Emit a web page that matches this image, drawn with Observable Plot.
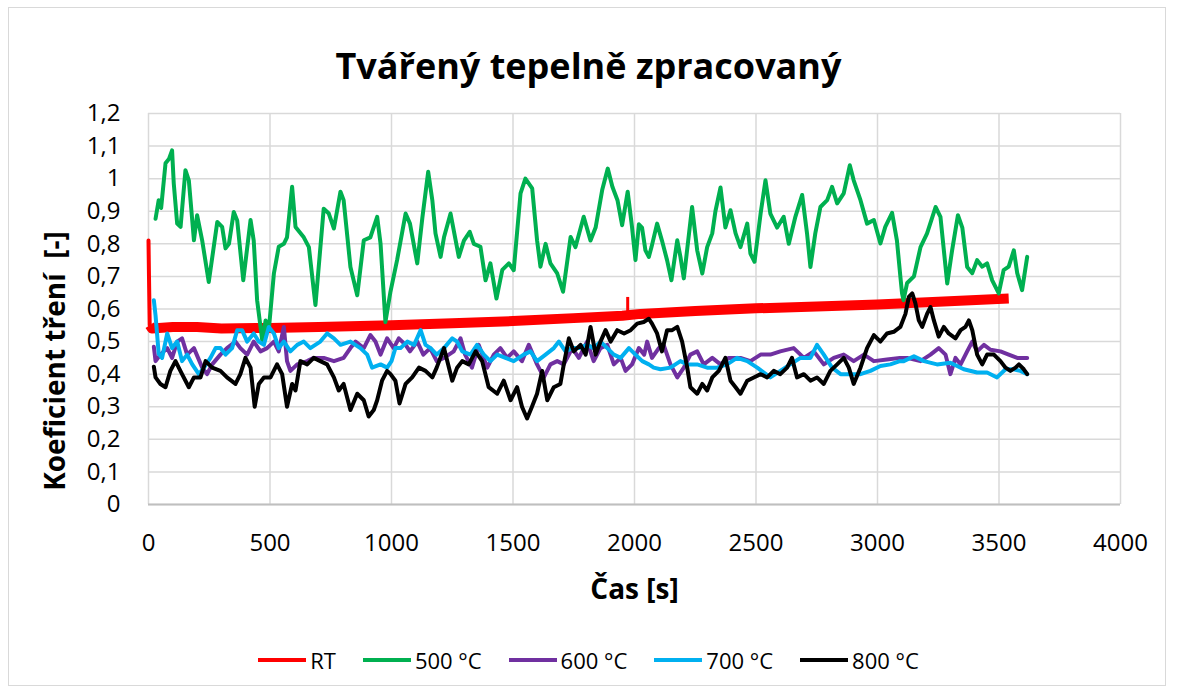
<!DOCTYPE html>
<html><head><meta charset="utf-8">
<script src="https://cdn.jsdelivr.net/npm/d3@7"></script>
<script src="https://cdn.jsdelivr.net/npm/@observablehq/plot@0.6"></script>
<style>
html,body{margin:0;padding:0;background:#fff;}
body{width:1177px;height:695px;position:relative;overflow:hidden;font-family:"Open Sans",sans-serif;color:#000;}
#frame{position:absolute;left:8px;top:7px;width:1158px;height:679px;border:1.5px solid #d9d9d9;box-sizing:border-box;}
#title{position:absolute;left:0;width:1177px;top:41px;text-align:center;font-weight:700;font-size:36px;}
#chart{position:absolute;left:0;top:95px;}
#legend{position:absolute;left:0;width:1177px;top:645px;display:flex;justify-content:center;gap:27px;font-size:22px;}
.item{display:flex;align-items:center;gap:4px;}
.sw{width:48px;height:4px;}
g[aria-label="x-axis label"] text, g[aria-label="y-axis label"] text{font-size:28px;font-weight:700;}
g[aria-label="y-axis label"] text{translate:0 52px;}
</style>
</head><body>
<div id="frame"></div>
<div id="title">Tvářený tepelně zpracovaný</div>
<div id="chart"></div>
<div id="legend"></div>
<script>
const xTicks = [0, 500, 1000, 1500, 2000, 2500, 3000, 3500, 4000];
const xTickLabels = ["0", "500", "1000", "1500", "2000", "2500", "3000", "3500", "4000"];
const yTicks = [0, 0.1, 0.2, 0.3, 0.4, 0.5, 0.6, 0.7, 0.8, 0.9, 1, 1.1, 1.2];
const yTickLabels = ["0", "0,1", "0,2", "0,3", "0,4", "0,5", "0,6", "0,7", "0,8", "0,9", "1", "1,1", "1,2"];
const seriesNames = ["RT", "500 °C", "600 °C", "700 °C", "800 °C"];
const seriesColors = ["#ff0000", "#00b050", "#7030a0", "#00b0f0", "#000000"];

// RT: initial spike, the main band, and a short spike near 1970 s
const rtStart = [[0,0.81],[2,0.70],[5,0.55]];
const rt = [[5,0.55],[14,0.54],[100,0.545],[200,0.545],[300,0.54],[500,0.542],[700,0.545],[1000,0.55],[1250,0.556],[1500,0.563],[1750,0.572],[1950,0.579],[2025,0.585],[2250,0.594],[2500,0.602],[2750,0.608],[3000,0.614],[3250,0.622],[3540,0.632]];
const rtSpike = [[1972,0.58],[1972,0.637]];

const t500 = [[29,0.877],[42,0.934],[52,0.91],[70,1.047],[84,1.06],[97,1.087],[104,0.985],[118,0.862],[132,0.852],[152,1.026],[166,0.995],[187,0.811],[200,0.888],[221,0.81],[248,0.683],[283,0.867],[303,0.852],[317,0.786],[331,0.8],[351,0.898],[365,0.872],[390,0.688],[420,0.873],[433,0.81],[447,0.627],[468,0.504],[482,0.565],[495,0.535],[516,0.709],[536,0.791],[557,0.80],[570,0.82],[591,0.975],[605,0.852],[639,0.82],[660,0.79],[687,0.612],[721,0.908],[742,0.893],[763,0.847],[790,0.96],[803,0.934],[831,0.729],[859,0.642],[886,0.811],[913,0.82],[941,0.883],[955,0.80],[975,0.56],[995,0.65],[1023,0.75],[1058,0.893],[1076,0.862],[1106,0.74],[1127,0.88],[1151,1.021],[1168,0.934],[1181,0.832],[1202,0.76],[1216,0.82],[1243,0.893],[1277,0.76],[1298,0.81],[1322,0.837],[1339,0.80],[1366,0.791],[1387,0.688],[1407,0.74],[1432,0.632],[1456,0.72],[1483,0.74],[1503,0.719],[1531,0.955],[1551,1.00],[1579,0.97],[1599,0.811],[1613,0.73],[1634,0.80],[1654,0.74],[1682,0.709],[1706,0.653],[1737,0.821],[1757,0.79],[1791,0.883],[1819,0.81],[1840,0.85],[1867,0.965],[1890,1.031],[1909,0.975],[1930,0.934],[1949,0.857],[1972,0.96],[1990,0.85],[2004,0.75],[2018,0.86],[2031,0.85],[2045,0.78],[2059,0.76],[2070,0.79],[2093,0.862],[2113,0.81],[2134,0.75],[2152,0.688],[2176,0.811],[2189,0.76],[2203,0.694],[2237,0.913],[2258,0.78],[2279,0.709],[2299,0.79],[2320,0.832],[2333,0.90],[2354,0.973],[2374,0.85],[2395,0.903],[2416,0.832],[2436,0.79],[2464,0.862],[2477,0.77],[2494,0.745],[2519,0.893],[2539,0.995],[2559,0.893],[2587,0.85],[2614,0.883],[2635,0.80],[2662,0.883],[2690,0.95],[2710,0.832],[2724,0.729],[2744,0.832],[2765,0.913],[2793,0.934],[2813,0.975],[2834,0.924],[2861,0.955],[2886,1.041],[2902,0.995],[2930,0.934],[2957,0.862],[2985,0.873],[3012,0.801],[3032,0.852],[3060,0.895],[3080,0.81],[3094,0.70],[3101,0.648],[3107,0.627],[3122,0.68],[3150,0.70],[3177,0.79],[3204,0.832],[3239,0.913],[3259,0.883],[3287,0.678],[3307,0.78],[3331,0.888],[3349,0.85],[3369,0.729],[3390,0.71],[3410,0.75],[3431,0.73],[3451,0.74],[3472,0.688],[3499,0.648],[3519,0.719],[3540,0.73],[3561,0.78],[3575,0.71],[3595,0.658],[3616,0.76]];

const t600 = [[22,0.484],[29,0.44],[49,0.46],[77,0.48],[97,0.45],[118,0.50],[138,0.51],[159,0.46],[187,0.48],[221,0.42],[241,0.40],[262,0.43],[296,0.46],[323,0.48],[358,0.50],[378,0.48],[406,0.46],[433,0.50],[461,0.47],[488,0.48],[516,0.50],[536,0.47],[557,0.545],[570,0.44],[584,0.41],[612,0.43],[653,0.44],[680,0.45],[721,0.45],[763,0.44],[803,0.45],[831,0.48],[852,0.50],[886,0.48],[913,0.52],[934,0.50],[955,0.46],[982,0.51],[1009,0.48],[1030,0.51],[1058,0.49],[1076,0.47],[1106,0.50],[1131,0.46],[1159,0.48],[1186,0.44],[1216,0.45],[1256,0.47],[1284,0.51],[1303,0.46],[1331,0.42],[1359,0.49],[1394,0.42],[1421,0.46],[1448,0.48],[1476,0.45],[1503,0.47],[1537,0.44],[1565,0.49],[1599,0.43],[1627,0.39],[1654,0.43],[1682,0.44],[1709,0.43],[1744,0.48],[1771,0.45],[1805,0.50],[1832,0.44],[1860,0.48],[1888,0.49],[1915,0.43],[1943,0.45],[1963,0.41],[1990,0.43],[2018,0.48],[2040,0.46],[2052,0.50],[2072,0.45],[2100,0.48],[2120,0.49],[2148,0.43],[2176,0.39],[2203,0.42],[2230,0.46],[2258,0.47],[2285,0.43],[2320,0.45],[2354,0.43],[2388,0.45],[2436,0.45],[2477,0.44],[2519,0.46],[2559,0.46],[2600,0.47],[2655,0.48],[2697,0.45],[2738,0.47],[2779,0.43],[2820,0.45],[2861,0.46],[2902,0.44],[2944,0.46],[2985,0.44],[3039,0.445],[3092,0.45],[3122,0.45],[3177,0.44],[3218,0.46],[3252,0.48],[3280,0.46],[3300,0.40],[3321,0.45],[3342,0.43],[3369,0.47],[3390,0.50],[3410,0.47],[3438,0.49],[3465,0.475],[3506,0.47],[3540,0.46],[3575,0.45],[3616,0.45]];

const t700 = [[22,0.627],[29,0.58],[42,0.463],[56,0.45],[77,0.525],[97,0.48],[118,0.50],[138,0.44],[159,0.46],[180,0.43],[207,0.40],[228,0.42],[255,0.45],[276,0.48],[296,0.48],[317,0.46],[344,0.48],[365,0.535],[385,0.535],[406,0.50],[433,0.525],[454,0.50],[475,0.49],[495,0.545],[516,0.525],[536,0.48],[557,0.50],[584,0.47],[612,0.49],[639,0.50],[666,0.48],[707,0.50],[735,0.525],[763,0.51],[790,0.49],[831,0.50],[872,0.48],[900,0.46],[920,0.42],[955,0.43],[982,0.42],[1000,0.44],[1016,0.48],[1037,0.48],[1065,0.50],[1093,0.49],[1120,0.535],[1140,0.49],[1161,0.48],[1186,0.46],[1216,0.48],[1250,0.51],[1270,0.50],[1291,0.47],[1325,0.46],[1352,0.49],[1380,0.46],[1407,0.44],[1435,0.46],[1469,0.45],[1503,0.44],[1544,0.46],[1572,0.47],[1599,0.44],[1634,0.46],[1668,0.48],[1689,0.50],[1716,0.47],[1744,0.48],[1771,0.48],[1805,0.49],[1832,0.48],[1860,0.50],[1888,0.48],[1915,0.46],[1943,0.45],[1977,0.48],[2004,0.46],[2032,0.44],[2059,0.43],[2079,0.42],[2107,0.415],[2148,0.42],[2189,0.44],[2217,0.43],[2258,0.43],[2299,0.42],[2340,0.42],[2381,0.43],[2422,0.45],[2464,0.44],[2505,0.42],[2559,0.39],[2600,0.41],[2641,0.43],[2683,0.45],[2724,0.45],[2751,0.49],[2779,0.46],[2813,0.42],[2848,0.40],[2889,0.40],[2930,0.40],[2971,0.41],[3012,0.425],[3053,0.43],[3092,0.44],[3108,0.44],[3150,0.455],[3191,0.44],[3245,0.43],[3300,0.435],[3355,0.415],[3410,0.405],[3451,0.405],[3492,0.39],[3527,0.415],[3561,0.415],[3588,0.41],[3616,0.40]];

const t800 = [[22,0.423],[29,0.39],[49,0.37],[70,0.36],[90,0.41],[111,0.44],[138,0.40],[166,0.36],[187,0.39],[214,0.39],[235,0.44],[262,0.42],[296,0.41],[323,0.39],[358,0.37],[378,0.40],[399,0.45],[420,0.42],[437,0.30],[454,0.37],[475,0.39],[502,0.39],[529,0.43],[550,0.40],[570,0.30],[591,0.37],[605,0.35],[625,0.44],[653,0.43],[680,0.45],[707,0.44],[735,0.43],[763,0.39],[783,0.35],[803,0.37],[831,0.29],[859,0.34],[886,0.32],[906,0.27],[927,0.29],[941,0.32],[961,0.38],[982,0.41],[996,0.40],[1016,0.38],[1033,0.31],[1058,0.37],[1085,0.39],[1113,0.42],[1140,0.41],[1168,0.39],[1186,0.42],[1216,0.48],[1250,0.38],[1270,0.42],[1291,0.44],[1318,0.43],[1346,0.47],[1373,0.44],[1400,0.36],[1435,0.34],[1462,0.38],[1490,0.32],[1517,0.36],[1537,0.30],[1558,0.264],[1578,0.30],[1599,0.34],[1620,0.41],[1641,0.32],[1668,0.36],[1695,0.37],[1709,0.43],[1730,0.51],[1750,0.47],[1778,0.49],[1799,0.46],[1819,0.545],[1840,0.46],[1860,0.50],[1881,0.535],[1902,0.50],[1929,0.535],[1957,0.525],[1984,0.535],[2011,0.555],[2038,0.56],[2059,0.57],[2072,0.555],[2093,0.525],[2113,0.47],[2134,0.535],[2155,0.535],[2176,0.545],[2196,0.50],[2217,0.42],[2230,0.36],[2258,0.34],[2279,0.37],[2299,0.35],[2320,0.39],[2347,0.41],[2374,0.45],[2395,0.38],[2416,0.36],[2436,0.34],[2464,0.38],[2491,0.39],[2519,0.40],[2546,0.39],[2573,0.41],[2600,0.40],[2628,0.42],[2648,0.45],[2669,0.39],[2697,0.40],[2724,0.38],[2751,0.39],[2779,0.37],[2806,0.41],[2834,0.43],[2861,0.45],[2882,0.42],[2902,0.37],[2930,0.42],[2957,0.48],[2985,0.52],[3012,0.50],[3039,0.525],[3067,0.53],[3094,0.545],[3115,0.585],[3129,0.637],[3143,0.648],[3156,0.617],[3170,0.565],[3184,0.545],[3204,0.585],[3218,0.606],[3232,0.565],[3252,0.515],[3273,0.545],[3293,0.525],[3321,0.51],[3342,0.535],[3362,0.545],[3376,0.565],[3390,0.535],[3410,0.46],[3431,0.43],[3451,0.46],[3479,0.46],[3506,0.44],[3527,0.42],[3547,0.41],[3568,0.42],[3582,0.43],[3602,0.415],[3616,0.40]];

const X = d => d[0], Y = d => d[1];
const plot = Plot.plot({
  width: 1177,
  height: 540,
  marginLeft: 148,
  marginRight: 57,
  marginTop: 18,
  marginBottom: 131,
  style: {fontFamily: "'Open Sans', sans-serif", background: "transparent", color: "#000", overflow: "visible"},
  x: {domain: [0, 4000]},
  y: {domain: [0, 1.2]},
  marks: [
    Plot.gridX(xTicks, {stroke: "#d9d9d9", strokeOpacity: 1, strokeWidth: 1.5}),
    Plot.gridY(yTicks, {stroke: "#d9d9d9", strokeOpacity: 1, strokeWidth: 1.5}),
    Plot.ruleY([0], {stroke: "#bfbfbf", strokeWidth: 2}),
    Plot.axisX({ticks: xTicks, tickSize: 0, tickPadding: 29, fontSize: 24,
      tickFormat: d => xTickLabels[xTicks.indexOf(d)],
      label: "Čas [s]", labelAnchor: "center", labelOffset: 94, labelArrow: "none"}),
    Plot.axisY({ticks: yTicks, tickSize: 0, tickPadding: 28, fontSize: 24,
      tickFormat: d => yTickLabels[yTicks.indexOf(d)],
      label: "Koeficient tření\u00a0 [-]", labelAnchor: "center", labelOffset: 103, labelArrow: "none"}),
    Plot.line(rtStart, {x: X, y: Y, stroke: seriesColors[0], strokeWidth: 4}),
    Plot.line(rt, {x: X, y: Y, stroke: seriesColors[0], strokeWidth: 10, strokeLinecap: "butt"}),
    Plot.line(rtSpike, {x: X, y: Y, stroke: seriesColors[0], strokeWidth: 3, strokeLinecap: "butt"}),
    Plot.line(t500, {x: X, y: Y, stroke: seriesColors[1], strokeWidth: 4}),
    Plot.line(t600, {x: X, y: Y, stroke: seriesColors[2], strokeWidth: 4}),
    Plot.line(t700, {x: X, y: Y, stroke: seriesColors[3], strokeWidth: 4}),
    Plot.line(t800, {x: X, y: Y, stroke: seriesColors[4], strokeWidth: 4})
  ]
});
document.getElementById("chart").appendChild(plot);

const legend = document.getElementById("legend");
seriesNames.forEach((name, i) => {
  const item = document.createElement("div");
  item.className = "item";
  const sw = document.createElement("span");
  sw.className = "sw";
  sw.style.background = seriesColors[i];
  const lab = document.createElement("span");
  lab.textContent = name;
  item.appendChild(sw);
  item.appendChild(lab);
  legend.appendChild(item);
});
</script>
</body></html>
